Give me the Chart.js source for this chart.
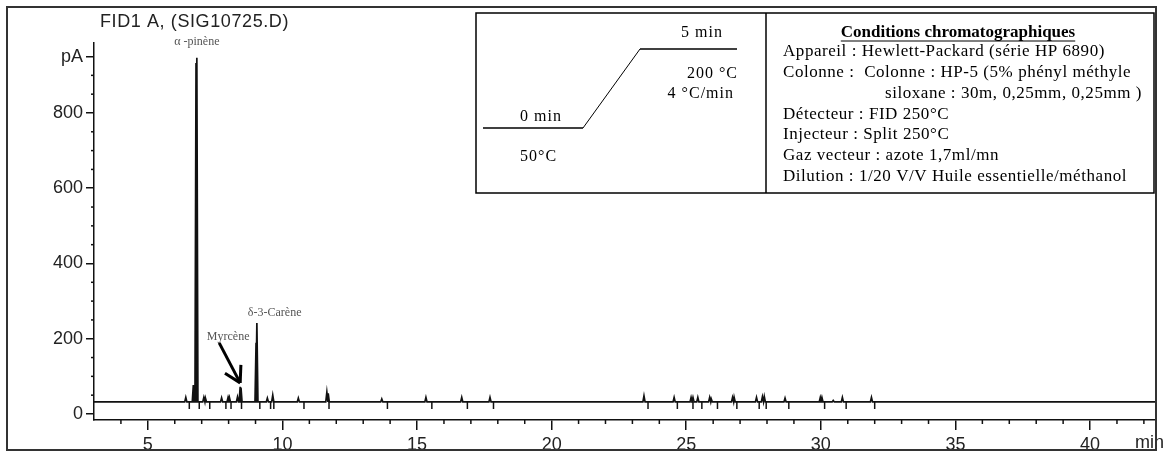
<!DOCTYPE html>
<html>
<head>
<meta charset="utf-8">
<script src="https://cdn.jsdelivr.net/npm/chart.js@4.4.1/dist/chart.umd.min.js"></script>
<style>
    html, body { margin: 0; padding: 0; background: #fff; }
    canvas { display: block; }
</style>
</head>
<body>
<canvas id="chart" width="1167" height="452"></canvas>
<script>
// chromatogramme FID1 A
const baseline = 32;
const peakTimes = [6.41, 6.69, 6.74, 6.79, 6.82, 7.08, 7.14, 7.74, 7.98, 8.03, 8.33, 8.43, 8.46, 9.02, 9.05,
    9.44, 9.64, 10.59, 11.65, 11.70, 13.69, 15.33, 16.66, 17.71, 23.43, 24.55, 25.18, 25.25, 25.43, 25.87,
    25.93, 26.72, 26.78, 27.61, 27.83, 27.90, 28.67, 29.98, 30.04, 30.46, 30.80, 31.88];
const peakHeights = [44, 77, 77, 933, 947, 44, 42, 43, 44, 44, 45, 72, 70, 189, 242,
    42, 50, 42, 58, 55, 40, 44, 44, 44, 48, 44, 44, 44, 44, 44,
    40, 44, 44, 44, 46, 46, 42, 44, 44, 36, 44, 44];
// marques d'integration sous la ligne de base
const markTimes = [6.54, 6.91, 7.30, 7.90, 8.09, 8.48, 9.16, 9.56, 9.68, 10.80, 11.73, 13.90, 15.55, 16.87,
    17.84, 23.58, 24.67, 25.25, 25.58, 26.16, 26.88, 27.71, 27.97, 28.81, 30.14, 30.94, 32.0];
const markValue = 22.5;

const peakLabelNames = ['α -pinène', 'Myrcène', 'δ-3-Carène'];
const peakLabelTimes = [6.82, 8.43, 9.05];

const xTickValues = [5, 10, 15, 20, 25, 30, 35, 40];
const yTickValues = [0, 200, 400, 600, 800, 950];
const yTickLabels = ['0', '200', '400', '600', '800', 'pA'];

const title = 'FID1 A, (SIG10725.D)';
const tempProgram = ['5 min', '200 °C', '4 °C/min', '0 min', '50°C'];
const condTitle = 'Conditions chromatographiques';
const condLines = [
    'Appareil : Hewlett-Packard (série HP 6890)',
    'Colonne :  Colonne : HP-5 (5% phényl méthyle',
    'siloxane : 30m, 0,25mm, 0,25mm )',
    'Détecteur : FID 250°C',
    'Injecteur : Split 250°C',
    'Gaz vecteur : azote 1,7ml/mn',
    'Dilution : 1/20 V/V Huile essentielle/méthanol',
];

const SANS = '"Liberation Sans", Arial, sans-serif';
const SERIF = '"Liberation Serif", "Times New Roman", serif';
const INK = '#111';

const halfWidth = 0.04;
const trace = [{ x: 3, y: baseline }];
peakTimes.forEach((t, i) => {
    trace.push({ x: t - halfWidth, y: baseline }, { x: t, y: peakHeights[i] }, { x: t + halfWidth, y: baseline });
});
trace.push({ x: 42.45, y: baseline });

const marks = markTimes.map((t) => ({ x: t, y: markValue }));

function line(ctx, x1, y1, x2, y2) {
    ctx.beginPath();
    ctx.moveTo(x1, y1);
    ctx.lineTo(x2, y2);
    ctx.stroke();
}

const decorPlugin = {
    id: 'decor',
    afterDraw(chart) {
        const ctx = chart.ctx;
        const area = chart.chartArea;
        const xs = chart.scales.x;
        const ys = chart.scales.y;

        ctx.save();
        ctx.strokeStyle = INK;
        ctx.fillStyle = INK;
        ctx.lineWidth = 1.5;

        // petites graduations
        for (let v = 50; v <= 950; v += 50) {
            if (yTickValues.includes(v)) continue;
            const py = ys.getPixelForValue(v);
            line(ctx, area.left - 3, py, area.left, py);
        }
        for (let t = 4; t <= 42; t++) {
            if (t % 5 === 0) continue;
            const px = xs.getPixelForValue(t);
            line(ctx, px, area.bottom, px, area.bottom + 4);
        }

        // unite axe x
        ctx.font = `18px ${SANS}`;
        ctx.textBaseline = 'top';
        ctx.fillStyle = '#222';
        ctx.fillText('min', 1135, 434);

        // titre
        ctx.letterSpacing = '0.6px';
        ctx.textBaseline = 'middle';
        ctx.fillText(title, 100, 22);
        ctx.letterSpacing = '0px';

        // noms des pics
        const offsets = [[0, -16, 'center'], [-12, -50, 'center'], [-9, -10, 'left']];
        ctx.font = `12px ${SERIF}`;
        ctx.fillStyle = '#555';
        peakLabelNames.forEach((name, i) => {
            const t = peakLabelTimes[i];
            const h = peakHeights[peakTimes.indexOf(t)];
            const px = xs.getPixelForValue(t);
            const py = ys.getPixelForValue(h);
            ctx.textAlign = offsets[i][2];
            ctx.fillText(name, px + offsets[i][0], py + offsets[i][1]);
        });

        // fleche myrcene
        {
            const t = peakLabelTimes[1];
            const px = xs.getPixelForValue(t);
            const py = ys.getPixelForValue(peakHeights[peakTimes.indexOf(t)]);
            const x1 = px - 21, y1 = py - 44, x2 = px, y2 = py - 4;
            const ang = Math.atan2(y2 - y1, x2 - x1);
            ctx.strokeStyle = '#000';
            ctx.lineWidth = 3;
            line(ctx, x1, y1, x2, y2);
            [Math.PI / 6, -Math.PI / 6].forEach((d) => {
                const a = ang + Math.PI + d;
                line(ctx, x2, y2, x2 + 18 * Math.cos(a), y2 + 18 * Math.sin(a));
            });
        }

        // encadre des conditions
        ctx.strokeStyle = '#000';
        ctx.lineWidth = 1.5;
        ctx.strokeRect(476, 13, 678, 180);
        line(ctx, 766, 13, 766, 193);

        // programme de temperature
        line(ctx, 483, 128, 583, 128);
        line(ctx, 640, 49, 737, 49);
        ctx.lineWidth = 1;
        line(ctx, 583, 128, 640, 49);

        ctx.fillStyle = '#000';
        ctx.font = `16px ${SERIF}`;
        ctx.letterSpacing = '1px';
        ctx.textAlign = 'right';
        ctx.fillText(tempProgram[0], 723, 33);
        ctx.fillText(tempProgram[1], 738, 74);
        ctx.fillText(tempProgram[2], 734, 94);
        ctx.textAlign = 'left';
        ctx.fillText(tempProgram[3], 520, 117);
        ctx.fillText(tempProgram[4], 520, 157);

        // texte des conditions
        ctx.font = `bold 17px ${SERIF}`;
        ctx.letterSpacing = '0px';
        ctx.textAlign = 'center';
        ctx.fillText(condTitle, 958, 33);
        const w = ctx.measureText(condTitle).width;
        ctx.lineWidth = 1.2;
        line(ctx, 958 - w / 2, 41, 958 + w / 2, 41);

        ctx.font = `17px ${SERIF}`;
        ctx.letterSpacing = '0.55px';
        ctx.textAlign = 'left';
        condLines.forEach((txt, i) => {
            ctx.fillText(txt, i === 2 ? 885 : 783, 52 + i * 20.7);
        });
        ctx.letterSpacing = '0px';

        // cadre exterieur
        ctx.strokeStyle = '#333';
        ctx.lineWidth = 2;
        ctx.strokeRect(7, 7, 1149, 443);
        ctx.restore();
    },
};

new Chart(document.getElementById('chart').getContext('2d'), {
    type: 'line',
    data: {
        datasets: [
            {
                data: trace,
                borderColor: INK,
                borderWidth: 1.7,
                pointRadius: 0,
                tension: 0,
            },
            {
                data: marks,
                showLine: false,
                pointStyle: 'line',
                rotation: 90,
                pointRadius: 3.5,
                borderColor: INK,
                borderWidth: 1.5,
            },
        ],
    },
    options: {
        animation: false,
        responsive: false,
        devicePixelRatio: 1,
        layout: { padding: { top: 43, right: 11, left: 0, bottom: 0 } },
        plugins: {
            legend: { display: false },
            tooltip: { enabled: false },
        },
        scales: {
            x: {
                type: 'linear',
                min: 3,
                max: 42.45,
                afterFit: (s) => { s.height = 32; },
                afterBuildTicks: (s) => { s.ticks = xTickValues.map((v) => ({ value: v })); },
                ticks: {
                    font: { family: SANS, size: 18 },
                    color: '#222',
                    padding: 4,
                    maxRotation: 0,
                    autoSkip: false,
                    callback: (v) => String(v),
                },
                grid: { drawOnChartArea: false, drawTicks: true, tickLength: 10, color: INK, lineWidth: 1.5 },
                border: { color: INK, width: 1.5 },
            },
            y: {
                min: -16,
                max: 986,
                afterFit: (s) => { s.width = 94; },
                afterBuildTicks: (s) => { s.ticks = yTickValues.map((v) => ({ value: v })); },
                ticks: {
                    font: { family: SANS, size: 18 },
                    color: '#222',
                    padding: 3,
                    autoSkip: false,
                    callback: (v) => yTickLabels[yTickValues.indexOf(v)],
                },
                grid: { drawOnChartArea: false, drawTicks: true, tickLength: 8, color: INK, lineWidth: 1.5 },
                border: { color: INK, width: 1.5 },
            },
        },
    },
    plugins: [decorPlugin],
});
</script>
</body>
</html>
